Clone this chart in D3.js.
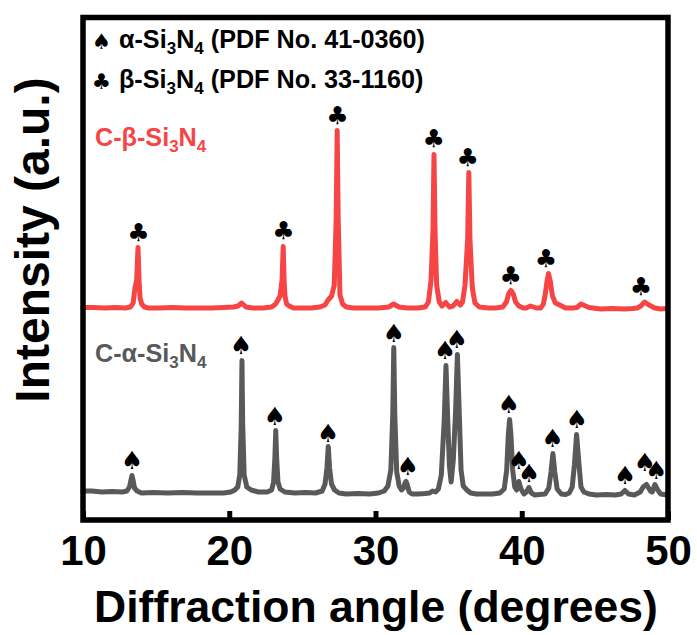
<!DOCTYPE html>
<html>
<head>
<meta charset="utf-8">
<script src="https://cdn.jsdelivr.net/npm/d3@7/dist/d3.min.js"></script>
<style>
	html, body { margin: 0; padding: 0; background: #fff; }
	svg { display: block; }
	text { font-family: "Liberation Sans", Arial, sans-serif; font-weight: bold; }
	.glyph { font-family: "DejaVu Sans", sans-serif; font-weight: normal; text-anchor: middle; }
</style>
</head>
<body>
<div id="chart"></div>
<script>
"use strict";

// Pattern: angle in degrees, intensity in arbitrary units
var alphaAngle = [
	10, 10.6, 11.3, 12, 12.7, 13, 13.18, 13.28, 13.35, 13.42, 13.52, 13.7, 14, 14.8, 15.8, 16.8, 17.8, 18.8, 19.6, 20.1,
	20.38, 20.58, 20.72, 20.82, 20.87, 20.92, 21.02, 21.2, 21.5, 22, 22.6, 22.9, 23.03, 23.12, 23.18, 23.24, 23.33, 23.48, 23.8,
	24.5, 25.2, 25.9, 26.35, 26.55, 26.68, 26.77, 26.86, 26.99, 27.2, 27.5, 28, 28.8, 29.6, 30.2, 30.6, 30.85, 31.05, 31.18, 31.25,
	31.32, 31.45, 31.62, 31.78, 31.92, 32.02, 32.09, 32.16, 32.3, 32.5, 32.9, 33.4, 33.7, 33.9, 34.1, 34.3, 34.5, 34.7, 34.82, 34.94,
	35.05, 35.17, 35.32, 35.48, 35.6, 35.72, 35.85, 36, 36.25, 36.5, 36.9, 37.4, 38, 38.5, 38.8, 38.97, 39.08, 39.17, 39.26, 39.38,
	39.52, 39.65, 39.8, 39.95, 40.15, 40.32, 40.49, 40.66, 40.9, 41.2, 41.6, 41.85, 42, 42.13, 42.26, 42.42, 42.7, 43, 43.25, 43.45,
	43.6, 43.75, 43.9, 44.05, 44.25, 44.6, 45.1, 45.8, 46.4, 46.8, 47.05, 47.3, 47.7, 48.1, 48.3, 48.53, 48.8, 48.92, 49.1, 49.3,
	49.5, 49.9
];
var alphaIntensity = [
	29, 29, 28, 28.5, 28, 29, 33, 40, 44.5, 40, 32, 29, 27, 27.5, 27, 27.5, 27, 27, 27, 28,
	30, 33, 45, 95, 159.5, 95, 45, 33, 30, 28, 28, 30, 38, 62, 89.5, 62, 38, 31, 28,
	27, 27.5, 27, 29, 36, 52, 73.5, 52, 36, 30, 27, 26, 26.5, 26, 27, 29, 34, 50, 105, 172.5,
	105, 48, 34, 30, 32, 37, 38.5, 36, 28, 26, 26, 26.5, 27, 29, 28, 31, 45, 100, 154.5, 100,
	55, 38, 60, 110, 165.5, 110, 50, 34, 30, 27, 26, 26, 26, 27, 31, 50, 85, 100.5, 85, 50,
	33, 30, 38.5, 31, 26, 28, 32.5, 27, 25, 25.5, 26, 32, 48, 66.5, 48, 31, 26, 25.5, 27, 33,
	55, 85.5, 58, 33, 28, 26, 25, 25.5, 25, 26, 29.5, 26, 25, 28, 33, 35.5, 29, 28, 35.5, 30,
	26, 25
];

var betaAngle = [
	10, 10.7, 11.5, 12.2, 12.9, 13.25, 13.43, 13.55, 13.67, 13.76, 13.83, 13.9, 14.01, 14.2, 14.5, 15.2, 16.1, 17, 17.9, 18.8,
	19.6, 20.3, 20.6, 20.85, 21.15, 21.6, 22.3, 22.9, 23.17, 23.33, 23.47, 23.61, 23.69, 23.75, 23.81, 23.92, 24.1, 24.4, 25, 25.6,
	26.2, 26.55, 26.76, 27, 27.18, 27.31, 27.38, 27.45, 27.57, 27.75, 28, 28.5, 29.3, 30.2, 30.9, 31.24, 31.6, 32.2, 32.9,
	33.4, 33.62, 33.8, 33.93, 34, 34.07, 34.18, 34.36, 34.55, 34.8, 35.05, 35.3, 35.56, 35.8, 35.95, 36.12, 36.3,
	36.38, 36.46, 36.62, 36.8, 37.1, 37.7, 38.2, 38.7, 38.95, 39.1, 39.26, 39.42, 39.58, 39.8, 40.1, 40.3, 40.6,
	41, 41.3, 41.48, 41.61, 41.72, 41.83, 41.96, 42.1, 42.3, 42.6, 43, 43.5, 43.77, 44.05, 44.6, 45.4, 46.2, 47, 47.6, 47.9,
	48.14, 48.4, 48.7, 49.1, 49.5, 49.9
];
var betaIntensity = [
	212.5, 212.5, 212, 212.5, 212, 213, 217, 232, 240, 272.5, 240, 222, 216, 213, 212, 212, 212.5, 212, 212, 212,
	212.5, 213, 214, 217, 213, 212, 212, 213, 216, 220, 224, 240, 273.5, 240, 224, 216, 214, 212, 212, 212,
	213, 215, 220, 224, 235, 300, 389.5, 300, 225, 216, 213, 212, 212, 212, 213, 216, 213, 212, 212,
	213, 218, 240, 290, 365.5, 290, 235, 218, 214, 217.5, 213, 214, 218.5, 215, 218, 235, 280,
	347.5, 280, 232, 217, 213, 212, 212, 213, 218, 226, 229.5, 226, 218, 214, 212, 212, 214, 212,
	212, 216, 226, 238, 246.5, 238, 224, 217, 215, 212, 212, 212.5, 216, 212.5, 211, 211.5, 211, 211.5, 212, 214,
	218, 215, 212, 211, 211.5, 211
];

// Peak markers: angle and height of the glyph centre
var alphaMarkAngle = [13.35, 20.8, 23.1, 26.75, 31.25, 32.2, 34.75, 35.55, 39.1, 39.8, 40.5, 42.1, 43.75, 47.05, 48.4, 49.2];
var alphaMarkIntensity = [60, 175, 104, 87, 187, 54, 170, 181, 116, 60, 47, 82, 101, 45, 58, 50];
var betaMarkAngle = [13.8, 23.7, 27.4, 33.98, 36.3, 39.25, 41.65, 48.15];
var betaMarkIntensity = [288, 290, 405, 382, 363, 245, 262, 234];

var xTicks = [10, 20, 30, 40, 50];

// Graph dimensions
var width = 697,
	height = 635,
	margin = {
		top: 17.5,
		right: 29,
		bottom: 115,
		left: 83
	},
	colorAlpha = "#595959",
	colorBeta = "#f54545";

var svg = d3.select("#chart").append("svg")
	.attr("width", width)
	.attr("height", height);

var x = d3.scaleLinear()
	.domain([10, 50])
	.range([margin.left, width - margin.right]);

var y = d3.scaleLinear()
	.domain([0, 502.5])
	.range([height - margin.bottom, margin.top]);

var line = d3.line()
	.x(function (d) { return x(d[0]); })
	.y(function (d) { return y(d[1]); });

/**
 * This function draws one pattern from its angle and intensity arrays
 */
function drawPattern(angles, intensities, color) {
	svg.append("path")
		.datum(d3.zip(angles, intensities))
		.attr("fill", "none")
		.attr("stroke", color)
		.attr("stroke-width", 5)
		.attr("stroke-linejoin", "round")
		.attr("stroke-linecap", "round")
		.attr("d", line);
}

/**
 * This function puts a card suit glyph over each peak
 */
function drawMarks(angles, intensities, glyph) {
	svg.append("g")
		.selectAll("text")
		.data(d3.zip(angles, intensities))
		.enter().append("text")
		.attr("class", "glyph")
		.attr("x", function (d) { return x(d[0]); })
		.attr("y", function (d) { return y(d[1]); })
		.attr("dy", "0.36em")
		.attr("font-size", 25)
		.text(glyph);
}

drawPattern(alphaAngle, alphaIntensity, colorAlpha);
drawPattern(betaAngle, betaIntensity, colorBeta);
drawMarks(alphaMarkAngle, alphaMarkIntensity, "\u2660");
drawMarks(betaMarkAngle, betaMarkIntensity, "\u2663");

// Bottom axis, ticks point inwards
var xAxis = d3.axisBottom(x)
	.tickValues(xTicks)
	.tickSize(-9)
	.tickSizeOuter(0)
	.tickPadding(15);

var axisG = svg.append("g")
	.attr("transform", "translate(0," + (height - margin.bottom) + ")")
	.call(xAxis);

axisG.select(".domain").remove();
axisG.selectAll("line").attr("stroke", "#000").attr("stroke-width", 5);
axisG.selectAll("text")
	.attr("fill", "#000")
	.style("font-family", '"Liberation Sans", Arial, sans-serif')
	.style("font-weight", "bold")
	.style("font-size", "42px");

// Frame
svg.append("rect")
	.attr("x", margin.left)
	.attr("y", margin.top)
	.attr("width", width - margin.left - margin.right)
	.attr("height", height - margin.top - margin.bottom)
	.attr("fill", "none")
	.attr("stroke", "#000")
	.attr("stroke-width", 5.5);

// Axis titles
svg.append("text")
	.attr("x", 376)
	.attr("y", 622)
	.attr("text-anchor", "middle")
	.attr("font-size", 44.5)
	.text("Diffraction angle (degrees)");

svg.append("text")
	.attr("transform", "translate(49,240) rotate(-90)")
	.attr("text-anchor", "middle")
	.attr("font-size", 48)
	.text("Intensity (a.u.)");

/**
 * This function writes a Si3N4 label with lowered 3 and 4
 */
function siLabel(xPos, yPos, color, before, after) {
	var t = svg.append("text")
		.attr("x", xPos)
		.attr("y", yPos)
		.attr("fill", color)
		.attr("font-size", 25.2);
	t.append("tspan").text(before + "-Si");
	t.append("tspan").attr("font-size", 17).attr("dy", 6).text("3");
	t.append("tspan").attr("dy", -6).text("N");
	t.append("tspan").attr("font-size", 17).attr("dy", 6).text("4");
	if (after) {
		t.append("tspan").attr("dy", -6).text(" " + after);
	}
}

// Legend and curve labels
siLabel(119, 48, "#000", "\u03b1", "(PDF No. 41-0360)");
siLabel(119, 88, "#000", "\u03b2", "(PDF No. 33-1160)");
siLabel(95, 146, colorBeta, "C-\u03b2");
siLabel(95, 362, colorAlpha, "C-\u03b1");

svg.append("text")
	.attr("class", "glyph")
	.attr("x", 101.5)
	.attr("y", 41)
	.attr("dy", "0.36em")
	.attr("font-size", 21.5)
	.text("\u2660");

svg.append("text")
	.attr("class", "glyph")
	.attr("x", 101.5)
	.attr("y", 81)
	.attr("dy", "0.36em")
	.attr("font-size", 21.5)
	.text("\u2663");
</script>
</body>
</html>
